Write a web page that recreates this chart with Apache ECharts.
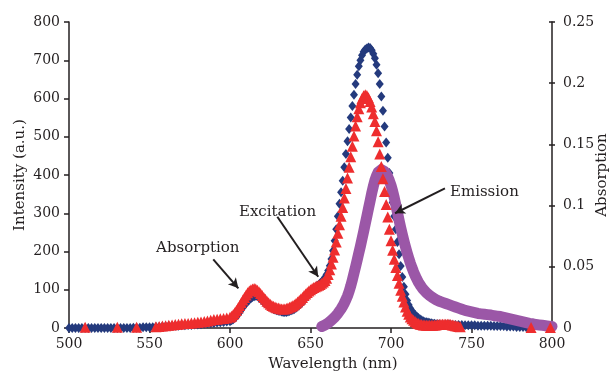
<!DOCTYPE html>
<html>
<head>
<meta charset="utf-8">
<script src="https://cdn.jsdelivr.net/npm/echarts@6/dist/echarts.min.js"></script>
<style>
html,body{margin:0;padding:0;background:#fff;overflow:hidden;width:611px;height:377px;}
#chart{width:611px;height:377px;overflow:hidden;}
</style>
</head>
<body>
<div id="chart"></div>
<script>
// sampling grid helper (wavelength grid only)
function range(a, b, s) { const r = []; for (let x = a; x <= b + 1e-9; x += s) r.push(+x.toFixed(2)); return r; }

// Absorption (blue diamonds, right axis)
const absWl = [...range(500, 598, 2), ...range(600, 730, 1), ...range(732, 784, 2)];
const absVal = [
  0,0,0,0,0,0,0,0,0,0,0,0,0,0,0,0,0,0,0,0,
  0.0003,0.0003,0.0003,0.0006,0.0006,0.0006,
  0.0006,0.0009,0.0009,0.0013,0.0013,0.0016,0.0016,0.0019,0.0019,0.0022,0.0022,0.0025,0.0025,0.0028,0.0028,0.0031,0.0034,0.0038,0.0038,0.0041,0.0044,0.0047,0.005,0.0053,
  0.0056,0.0063,0.0072,0.0084,0.0097,0.0113,0.0131,0.015,0.0169,0.0188,
  0.0203,0.0219,0.0231,0.0244,0.0253,0.0259,0.0263,0.0259,0.025,0.0238,
  0.0225,0.0213,0.02,0.0191,0.0181,0.0172,0.0163,0.0156,0.015,0.0144,
  0.0141,0.0138,0.0134,0.0131,0.0131,0.0131,0.0134,0.0138,0.0144,0.015,
  0.0156,0.0166,0.0175,0.0188,0.02,0.0213,0.0228,0.0244,0.0263,0.0281,
  0.0297,0.0309,0.0322,0.0331,0.0344,0.0353,0.0366,0.0378,0.0394,0.0413,
  0.0438,0.0469,0.0509,0.0563,0.0631,0.0713,0.0806,0.0913,0.1016,0.1109,
  0.1203,0.1313,0.1422,0.1525,0.1625,0.1719,0.1813,0.1906,0.1994,0.2069,
  0.2138,0.2188,0.2228,0.2256,0.2275,0.2284,0.2291,0.2288,0.2269,0.2241,
  0.2203,0.215,0.2081,0.1994,0.1891,0.1775,0.1647,0.1516,0.1391,0.1266,
  0.1141,0.1025,0.0913,0.0806,0.0703,0.0603,0.0506,0.0416,0.0338,0.0275,
  0.0225,0.0188,0.0159,0.0138,0.0119,0.0106,0.0094,0.0081,0.0072,0.0063,
  0.0056,0.005,0.0047,0.0044,0.0041,0.0038,0.0034,0.0034,0.0031,0.0031,
  0.0031,
  0.0028,0.0028,0.0028,0.0025,0.0025,0.0025,0.0025,0.0022,0.0022,0.0022,0.0022,
  0.0019,0.0019,0.0019,0.0019,0.0019,0.0016,0.0016,0.0016,0.0016,
  0.0013,0.0013,0.0013,0.0009,0.0009,0.0009,0.0006
];

// Excitation (red triangles, left axis)
const excWl = [510, 530, 542, ...range(554, 598, 2), ...range(600, 743, 1), 787, 799];
const excVal = [
  2,2,2,
  3,4,5,6,7,8,9,10,11,12,12,13,14,15,16,17,18,20,22,23,24,25,26,
  28,31,35,40,46,52,59,66,73,80,
  86,92,97,100,102,103,102,99,95,90,
  85,80,75,70,66,62,59,57,55,53,
  52,51,50,50,50,51,52,54,56,58,
  61,64,68,72,76,80,85,89,93,97,
  100,103,106,108,110,112,114,117,120,124,
  130,140,152,167,185,204,225,248,270,292,
  315,340,365,392,420,448,475,502,528,552,
  573,589,600,607,610,608,602,592,578,560,
  540,516,487,455,422,390,357,323,290,258,
  228,203,180,158,137,117,99,83,68,55,
  44,36,29,24,20,17,14,12,10,9,
  8,8,7,7,7,7,7,8,8,9,
  9,10,10,10,10,10,10,9,8,7,
  6,5,4,3,
  1,1
];

// Emission (purple, left axis)
const emWl = [...range(657, 730, 1), ...range(732, 800, 2)];
const emVal = [
  4,6,8,10,13,16,20,24,28,33,
  38,44,50,57,65,74,84,96,110,126,
  143,160,178,196,214,233,252,272,292,312,
  332,352,370,386,398,407,412,414,413,409,
  403,395,385,373,358,341,322,302,282,263,
  245,228,212,197,183,170,158,147,137,128,
  120,113,107,101,96,92,88,85,82,79,
  76,74,72,70,
  67,64,61,58,55,52,49,46,44,42,40,38,37,36,35,34,32,31,30,28,
  26,24,22,20,18,16,14,12,11,9,8,7,6,5,4
];

// Axis ticks
const xTicks = { min: 500, max: 800, step: 50 };
const yLeftTicks = { min: 0, max: 800, step: 100 };
const yRightTicks = { min: 0, max: 0.25, step: 0.05 };

// Annotations (data coordinates, left axis)
const noteLabels = ['Absorption', 'Excitation', 'Emission'];
const notePos = [[580, 209], [629.5, 304], [758, 356]];
const arrowFrom = [[589.6, 179.6], [629.4, 291], [733.5, 365]];
const arrowTo = [[605.2, 103.8], [654.8, 134], [702.5, 300]];

const FONT = 'DejaVu Serif';
const INK = '#231f20';

const zip = (xs, ys) => xs.map((x, i) => [x, ys[i]]);

const chart = echarts.init(document.getElementById('chart'), null, { renderer: 'canvas', width: 611, height: 377 });
chart.setOption({
  animation: false,
  backgroundColor: '#ffffff',
  grid: { left: 69, right: 59, top: 22, bottom: 49, containLabel: false, outerBoundsMode: 'none' },
  xAxis: {
    type: 'value', min: xTicks.min, max: xTicks.max, interval: xTicks.step,
    name: 'Wavelength (nm)', nameLocation: 'middle', nameGap: 29, nameMoveOverlap: false,
    nameTextStyle: { fontFamily: FONT, fontSize: 15, color: INK, padding: [0, 0, 0, 45] },
    axisLine: { show: true, onZero: false, lineStyle: { color: INK, width: 1.5 } },
    axisTick: { show: true, inside: false, length: 5, lineStyle: { color: INK, width: 1.5 } },
    axisLabel: { fontFamily: FONT, fontSize: 14, color: INK, margin: 9 },
    splitLine: { show: false }
  },
  yAxis: [
    {
      type: 'value', min: yLeftTicks.min, max: yLeftTicks.max, interval: yLeftTicks.step, position: 'left',
      name: 'Intensity (a.u.)', nameLocation: 'middle', nameGap: 41, nameRotate: 90, nameMoveOverlap: false,
      nameTextStyle: { fontFamily: FONT, fontSize: 15, color: INK },
      axisLine: { show: true, onZero: false, lineStyle: { color: INK, width: 1.5 } },
      axisTick: { show: true, inside: false, length: 5, lineStyle: { color: INK, width: 1.5 } },
      axisLabel: { fontFamily: FONT, fontSize: 14, color: INK, margin: 9 },
      splitLine: { show: false }
    },
    {
      type: 'value', min: yRightTicks.min, max: yRightTicks.max, interval: yRightTicks.step, position: 'right',
      name: 'Absorption', nameLocation: 'middle', nameGap: 43, nameRotate: 90, nameMoveOverlap: false,
      nameTextStyle: { fontFamily: FONT, fontSize: 15, color: INK },
      axisLine: { show: true, onZero: false, lineStyle: { color: INK, width: 1.5 } },
      axisTick: { show: true, inside: false, length: 3, lineStyle: { color: INK, width: 1.5 } },
      axisLabel: { fontFamily: FONT, fontSize: 14, color: INK, margin: 11 },
      splitLine: { show: false }
    },
    {
      type: 'value', min: yRightTicks.min, max: yRightTicks.max, interval: yRightTicks.step, position: 'right',
      axisLine: { show: false },
      axisTick: { show: true, inside: true, length: 3, lineStyle: { color: INK, width: 1.5 } },
      axisLabel: { show: false },
      splitLine: { show: false }
    }
  ],
  series: [
    {
      name: 'Absorption', type: 'scatter', yAxisIndex: 1, z: 2,
      symbol: 'diamond', symbolSize: [8, 10],
      itemStyle: { color: '#243a7d', opacity: 1 },
      data: zip(absWl, absVal)
    },
    {
      name: 'Emission', type: 'line', yAxisIndex: 0, z: 3,
      showSymbol: false, symbol: 'none', smooth: false,
      lineStyle: { color: '#9b57a7', width: 11, cap: 'round', join: 'round' },
      data: zip(emWl, emVal)
    },
    {
      name: 'Excitation', type: 'scatter', yAxisIndex: 0, z: 4,
      symbol: 'triangle', symbolSize: 11,
      itemStyle: { color: '#ee2d2e', opacity: 1 },
      data: zip(excWl, excVal),
      markLine: {
        silent: true, animation: false,
        symbol: ['none', 'arrow'], symbolSize: [8, 10],
        lineStyle: { color: INK, width: 2, type: 'solid' },
        label: { show: false },
        data: arrowFrom.map((p, i) => [{ coord: p }, { coord: arrowTo[i] }])
      },
      markPoint: {
        silent: true, animation: false,
        symbol: 'rect', symbolSize: 1,
        itemStyle: { color: 'rgba(0,0,0,0)' },
        label: { show: true, position: 'inside', formatter: '{b}', fontFamily: FONT, fontSize: 15, color: INK },
        data: noteLabels.map((t, i) => ({ name: t, coord: notePos[i] }))
      }
    }
  ]
});
</script>
</body>
</html>
